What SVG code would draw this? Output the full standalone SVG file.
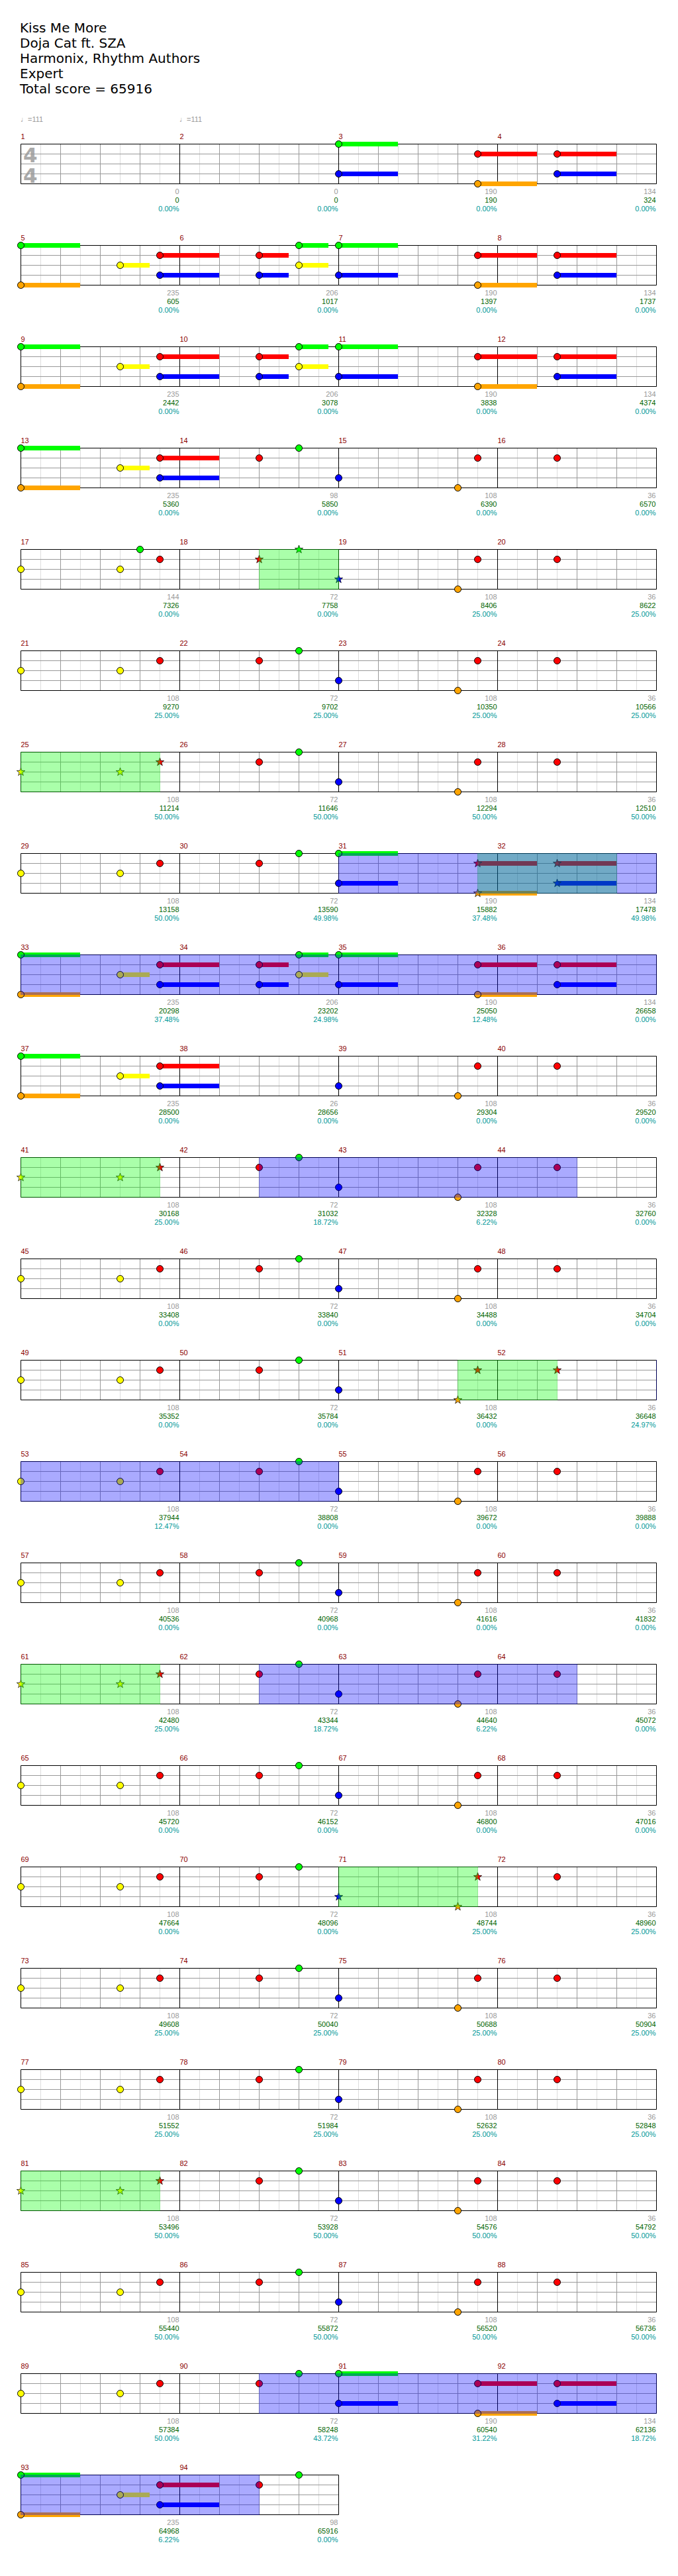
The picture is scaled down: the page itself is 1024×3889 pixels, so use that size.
<svg xmlns="http://www.w3.org/2000/svg" width="1024" height="3889" viewBox="0 0 1024 3889">
<style>
.bg{fill:#fff}
.lt{stroke:#ddd;stroke-width:1;fill:none}
.gr{stroke:#999;stroke-width:1;fill:none}
.bk{stroke:#000;stroke-width:1;fill:none}
.n{stroke:#000;stroke-width:1}
.s{stroke:#000;stroke-width:0.7}
.G{fill:#00ff00}.R{fill:#ff0000}.Y{fill:#ffff00}.B{fill:#0000ff}.O{fill:#ffa500}
.og{fill:#00ff00;fill-opacity:0.333}
.ob{fill:#0000ff;fill-opacity:0.333}
.title{font-family:"DejaVu Sans",Verdana,sans-serif;font-size:20px;fill:#000}
.tp{font-family:"Liberation Sans","DejaVu Sans",sans-serif;font-size:11px;fill:#999}
.ts{font-family:"DejaVu Sans",sans-serif;font-weight:bold;font-size:31px;fill:#aaa}
.mn{font-family:"Liberation Sans",Arial,sans-serif;font-size:11px;fill:#8b0000}
.sc{font-family:"Liberation Sans",Arial,sans-serif;font-size:11px;text-anchor:end}
.a{fill:#999}.b{fill:#006400}.c{fill:#009999}
</style>
<defs>
<path id="st" d="M0,-6.5L1.53,-2.1L6.18,-2.01L2.47,0.8L3.82,5.26L0,2.6L-3.82,5.26L-2.47,0.8L-6.18,-2.01L-1.53,-2.1Z"/>
<g id="grid4">
<path class="lt" d="M61.5 0V60M121.5 0V60M181.5 0V60M241.5 0V60M301.5 0V60M361.5 0V60M421.5 0V60M481.5 0V60M541.5 0V60M601.5 0V60M661.5 0V60M721.5 0V60M781.5 0V60M841.5 0V60M901.5 0V60M961.5 0V60"/>
<path class="gr" d="M91.5 0V60M151.5 0V60M211.5 0V60M331.5 0V60M391.5 0V60M451.5 0V60M571.5 0V60M631.5 0V60M691.5 0V60M811.5 0V60M871.5 0V60M931.5 0V60M31.5 15H991.5M31.5 30H991.5M31.5 45H991.5"/>
<path class="bk" d="M31.5 0H991.5M31.5 60H991.5M31.5 0V60M271.5 0V60M511.5 0V60M751.5 0V60M991.5 0V60"/>
</g>
<g id="grid2">
<path class="lt" d="M61.5 0V60M121.5 0V60M181.5 0V60M241.5 0V60M301.5 0V60M361.5 0V60M421.5 0V60M481.5 0V60"/>
<path class="gr" d="M91.5 0V60M151.5 0V60M211.5 0V60M331.5 0V60M391.5 0V60M451.5 0V60M31.5 15H511.5M31.5 30H511.5M31.5 45H511.5"/>
<path class="bk" d="M31.5 0H511.5M31.5 60H511.5M31.5 0V60M271.5 0V60M511.5 0V60"/>
</g>
<g id="intro">
<rect class="G" x="31.5" y="-3.5" width="89.5" height="7"/>
<rect class="O" x="31.5" y="56.5" width="89.5" height="7"/>
<rect class="Y" x="181.5" y="26.5" width="44.5" height="7"/>
<rect class="R" x="241.5" y="11.5" width="89.5" height="7"/>
<rect class="B" x="241.5" y="41.5" width="89.5" height="7"/>
<circle class="n G" cx="31.5" cy="0" r="5"/>
<circle class="n O" cx="31.5" cy="60" r="5"/>
<circle class="n Y" cx="181.5" cy="30" r="5"/>
<circle class="n R" cx="241.5" cy="15" r="5"/>
<circle class="n B" cx="241.5" cy="45" r="5"/>
</g>
<g id="mid">
<rect class="R" x="391.5" y="11.5" width="44.5" height="7"/>
<rect class="B" x="391.5" y="41.5" width="44.5" height="7"/>
<rect class="G" x="451.5" y="-3.5" width="44.5" height="7"/>
<rect class="Y" x="451.5" y="26.5" width="44.5" height="7"/>
<circle class="n R" cx="391.5" cy="15" r="5"/>
<circle class="n B" cx="391.5" cy="45" r="5"/>
<circle class="n G" cx="451.5" cy="0" r="5"/>
<circle class="n Y" cx="451.5" cy="30" r="5"/>
</g>
<g id="outro">
<rect class="G" x="511.5" y="-3.5" width="89.5" height="7"/>
<rect class="B" x="511.5" y="41.5" width="89.5" height="7"/>
<rect class="R" x="721.5" y="11.5" width="89.5" height="7"/>
<rect class="O" x="721.5" y="56.5" width="89.5" height="7"/>
<rect class="R" x="841.5" y="11.5" width="89.5" height="7"/>
<rect class="B" x="841.5" y="41.5" width="89.5" height="7"/>
<circle class="n G" cx="511.5" cy="0" r="5"/>
<circle class="n B" cx="511.5" cy="45" r="5"/>
<circle class="n R" cx="721.5" cy="15" r="5"/>
<circle class="n O" cx="721.5" cy="60" r="5"/>
<circle class="n R" cx="841.5" cy="15" r="5"/>
<circle class="n B" cx="841.5" cy="45" r="5"/>
</g>
<g id="head">
<circle class="n Y" cx="31.5" cy="30" r="5"/>
<circle class="n Y" cx="181.5" cy="30" r="5"/>
<circle class="n R" cx="241.5" cy="15" r="5"/>
</g>
<g id="shead">
<use href="#st" class="s Y" x="31.5" y="30"/>
<use href="#st" class="s Y" x="181.5" y="30"/>
<use href="#st" class="s R" x="241.5" y="15"/>
</g>
<g id="rg">
<circle class="n R" cx="391.5" cy="15" r="5"/>
<circle class="n G" cx="451.5" cy="0" r="5"/>
</g>
<g id="tail4">
<circle class="n O" cx="691.5" cy="60" r="5"/>
<circle class="n R" cx="721.5" cy="15" r="5"/>
<circle class="n R" cx="841.5" cy="15" r="5"/>
</g>
<g id="tail">
<use href="#rg"/>
<circle class="n B" cx="511.5" cy="45" r="5"/>
<use href="#tail4"/>
</g>
</defs>
<rect class="bg" x="0" y="0" width="1024" height="3889"/>
<g id="header">
<text class="title" x="30" y="49">Kiss Me More</text>
<text class="title" x="30" y="72">Doja Cat ft. SZA</text>
<text class="title" x="30" y="95">Harmonix, Rhythm Authors</text>
<text class="title" x="30" y="118">Expert</text>
<text class="title" x="30" y="141">Total score = 65916</text>
</g>

<g id="row1" transform="translate(0,217.5)">
<text class="tp" x="31" y="-33.5">♩=111</text>
<text class="tp" x="271" y="-33.5">♩=111</text>
<text class="ts" x="35" y="27.5">4</text>
<text class="ts" x="35" y="58">4</text>
<use href="#grid4"/>
<use href="#outro"/>
<text class="mn" y="-8"><tspan x="31.5">1</tspan><tspan x="271.5">2</tspan><tspan x="511.5">3</tspan><tspan x="751.5">4</tspan></text>
<text class="sc a" y="75"><tspan x="270.5">0</tspan><tspan x="510.5">0</tspan><tspan x="750.5">190</tspan><tspan x="990.5">134</tspan></text>
<text class="sc b" y="88.5"><tspan x="270.5">0</tspan><tspan x="510.5">0</tspan><tspan x="750.5">190</tspan><tspan x="990.5">324</tspan></text>
<text class="sc c" y="101.5"><tspan x="270.5">0.00%</tspan><tspan x="510.5">0.00%</tspan><tspan x="750.5">0.00%</tspan><tspan x="990.5">0.00%</tspan></text>
</g>

<g id="row2" transform="translate(0,370.5)">
<use href="#grid4"/>
<use href="#intro"/><use href="#mid"/><use href="#outro"/>
<text class="mn" y="-8"><tspan x="31.5">5</tspan><tspan x="271.5">6</tspan><tspan x="511.5">7</tspan><tspan x="751.5">8</tspan></text>
<text class="sc a" y="75"><tspan x="270.5">235</tspan><tspan x="510.5">206</tspan><tspan x="750.5">190</tspan><tspan x="990.5">134</tspan></text>
<text class="sc b" y="88.5"><tspan x="270.5">605</tspan><tspan x="510.5">1017</tspan><tspan x="750.5">1397</tspan><tspan x="990.5">1737</tspan></text>
<text class="sc c" y="101.5"><tspan x="270.5">0.00%</tspan><tspan x="510.5">0.00%</tspan><tspan x="750.5">0.00%</tspan><tspan x="990.5">0.00%</tspan></text>
</g>

<g id="row3" transform="translate(0,523.5)">
<use href="#grid4"/>
<use href="#intro"/><use href="#mid"/><use href="#outro"/>
<text class="mn" y="-8"><tspan x="31.5">9</tspan><tspan x="271.5">10</tspan><tspan x="511.5">11</tspan><tspan x="751.5">12</tspan></text>
<text class="sc a" y="75"><tspan x="270.5">235</tspan><tspan x="510.5">206</tspan><tspan x="750.5">190</tspan><tspan x="990.5">134</tspan></text>
<text class="sc b" y="88.5"><tspan x="270.5">2442</tspan><tspan x="510.5">3078</tspan><tspan x="750.5">3838</tspan><tspan x="990.5">4374</tspan></text>
<text class="sc c" y="101.5"><tspan x="270.5">0.00%</tspan><tspan x="510.5">0.00%</tspan><tspan x="750.5">0.00%</tspan><tspan x="990.5">0.00%</tspan></text>
</g>

<g id="row4" transform="translate(0,676.5)">
<use href="#grid4"/>
<use href="#intro"/><use href="#tail"/>
<text class="mn" y="-8"><tspan x="31.5">13</tspan><tspan x="271.5">14</tspan><tspan x="511.5">15</tspan><tspan x="751.5">16</tspan></text>
<text class="sc a" y="75"><tspan x="270.5">235</tspan><tspan x="510.5">98</tspan><tspan x="750.5">108</tspan><tspan x="990.5">36</tspan></text>
<text class="sc b" y="88.5"><tspan x="270.5">5360</tspan><tspan x="510.5">5850</tspan><tspan x="750.5">6390</tspan><tspan x="990.5">6570</tspan></text>
<text class="sc c" y="101.5"><tspan x="270.5">0.00%</tspan><tspan x="510.5">0.00%</tspan><tspan x="750.5">0.00%</tspan><tspan x="990.5">0.00%</tspan></text>
</g>

<g id="row5" transform="translate(0,829.5)">
<use href="#grid4"/>
<use href="#head"/>
<circle class="n G" cx="211.5" cy="0" r="5"/>
<use href="#st" class="s R" x="391.5" y="15"/>
<use href="#st" class="s G" x="451.5" y="0"/>
<use href="#st" class="s B" x="511.5" y="45"/>
<use href="#tail4"/>
<rect class="og" x="391" y="-0.5" width="121" height="61"/>
<text class="mn" y="-8"><tspan x="31.5">17</tspan><tspan x="271.5">18</tspan><tspan x="511.5">19</tspan><tspan x="751.5">20</tspan></text>
<text class="sc a" y="75"><tspan x="270.5">144</tspan><tspan x="510.5">72</tspan><tspan x="750.5">108</tspan><tspan x="990.5">36</tspan></text>
<text class="sc b" y="88.5"><tspan x="270.5">7326</tspan><tspan x="510.5">7758</tspan><tspan x="750.5">8406</tspan><tspan x="990.5">8622</tspan></text>
<text class="sc c" y="101.5"><tspan x="270.5">0.00%</tspan><tspan x="510.5">0.00%</tspan><tspan x="750.5">25.00%</tspan><tspan x="990.5">25.00%</tspan></text>
</g>

<g id="row6" transform="translate(0,982.5)">
<use href="#grid4"/>
<use href="#head"/><use href="#tail"/>
<text class="mn" y="-8"><tspan x="31.5">21</tspan><tspan x="271.5">22</tspan><tspan x="511.5">23</tspan><tspan x="751.5">24</tspan></text>
<text class="sc a" y="75"><tspan x="270.5">108</tspan><tspan x="510.5">72</tspan><tspan x="750.5">108</tspan><tspan x="990.5">36</tspan></text>
<text class="sc b" y="88.5"><tspan x="270.5">9270</tspan><tspan x="510.5">9702</tspan><tspan x="750.5">10350</tspan><tspan x="990.5">10566</tspan></text>
<text class="sc c" y="101.5"><tspan x="270.5">25.00%</tspan><tspan x="510.5">25.00%</tspan><tspan x="750.5">25.00%</tspan><tspan x="990.5">25.00%</tspan></text>
</g>

<g id="row7" transform="translate(0,1135.5)">
<use href="#grid4"/>
<use href="#shead"/><use href="#tail"/>
<rect class="og" x="31" y="-0.5" width="211" height="61"/>
<text class="mn" y="-8"><tspan x="31.5">25</tspan><tspan x="271.5">26</tspan><tspan x="511.5">27</tspan><tspan x="751.5">28</tspan></text>
<text class="sc a" y="75"><tspan x="270.5">108</tspan><tspan x="510.5">72</tspan><tspan x="750.5">108</tspan><tspan x="990.5">36</tspan></text>
<text class="sc b" y="88.5"><tspan x="270.5">11214</tspan><tspan x="510.5">11646</tspan><tspan x="750.5">12294</tspan><tspan x="990.5">12510</tspan></text>
<text class="sc c" y="101.5"><tspan x="270.5">50.00%</tspan><tspan x="510.5">50.00%</tspan><tspan x="750.5">50.00%</tspan><tspan x="990.5">50.00%</tspan></text>
</g>

<g id="row8" transform="translate(0,1288.5)">
<use href="#grid4"/>
<use href="#head"/><use href="#rg"/>
<rect class="G" x="511.5" y="-3.5" width="89.5" height="7"/>
<rect class="B" x="511.5" y="41.5" width="89.5" height="7"/>
<rect class="R" x="721.5" y="11.5" width="89.5" height="7"/>
<rect class="O" x="721.5" y="56.5" width="89.5" height="7"/>
<rect class="R" x="841.5" y="11.5" width="89.5" height="7"/>
<rect class="B" x="841.5" y="41.5" width="89.5" height="7"/>
<circle class="n G" cx="511.5" cy="0" r="5"/>
<circle class="n B" cx="511.5" cy="45" r="5"/>
<use href="#st" class="s R" x="721.5" y="15"/>
<use href="#st" class="s O" x="721.5" y="60"/>
<use href="#st" class="s R" x="841.5" y="15"/>
<use href="#st" class="s B" x="841.5" y="45"/>
<rect class="og" x="721" y="-0.5" width="211" height="61"/>
<rect class="ob" x="511" y="-0.5" width="481" height="61"/>
<text class="mn" y="-8"><tspan x="31.5">29</tspan><tspan x="271.5">30</tspan><tspan x="511.5">31</tspan><tspan x="751.5">32</tspan></text>
<text class="sc a" y="75"><tspan x="270.5">108</tspan><tspan x="510.5">72</tspan><tspan x="750.5">190</tspan><tspan x="990.5">134</tspan></text>
<text class="sc b" y="88.5"><tspan x="270.5">13158</tspan><tspan x="510.5">13590</tspan><tspan x="750.5">15882</tspan><tspan x="990.5">17478</tspan></text>
<text class="sc c" y="101.5"><tspan x="270.5">50.00%</tspan><tspan x="510.5">49.98%</tspan><tspan x="750.5">37.48%</tspan><tspan x="990.5">49.98%</tspan></text>
</g>

<g id="row9" transform="translate(0,1441.5)">
<use href="#grid4"/>
<use href="#intro"/><use href="#mid"/><use href="#outro"/>
<rect class="ob" x="31" y="-0.5" width="961" height="61"/>
<text class="mn" y="-8"><tspan x="31.5">33</tspan><tspan x="271.5">34</tspan><tspan x="511.5">35</tspan><tspan x="751.5">36</tspan></text>
<text class="sc a" y="75"><tspan x="270.5">235</tspan><tspan x="510.5">206</tspan><tspan x="750.5">190</tspan><tspan x="990.5">134</tspan></text>
<text class="sc b" y="88.5"><tspan x="270.5">20298</tspan><tspan x="510.5">23202</tspan><tspan x="750.5">25050</tspan><tspan x="990.5">26658</tspan></text>
<text class="sc c" y="101.5"><tspan x="270.5">37.48%</tspan><tspan x="510.5">24.98%</tspan><tspan x="750.5">12.48%</tspan><tspan x="990.5">0.00%</tspan></text>
</g>

<g id="row10" transform="translate(0,1594.5)">
<use href="#grid4"/>
<use href="#intro"/>
<circle class="n B" cx="511.5" cy="45" r="5"/>
<use href="#tail4"/>
<text class="mn" y="-8"><tspan x="31.5">37</tspan><tspan x="271.5">38</tspan><tspan x="511.5">39</tspan><tspan x="751.5">40</tspan></text>
<text class="sc a" y="75"><tspan x="270.5">235</tspan><tspan x="510.5">26</tspan><tspan x="750.5">108</tspan><tspan x="990.5">36</tspan></text>
<text class="sc b" y="88.5"><tspan x="270.5">28500</tspan><tspan x="510.5">28656</tspan><tspan x="750.5">29304</tspan><tspan x="990.5">29520</tspan></text>
<text class="sc c" y="101.5"><tspan x="270.5">0.00%</tspan><tspan x="510.5">0.00%</tspan><tspan x="750.5">0.00%</tspan><tspan x="990.5">0.00%</tspan></text>
</g>

<g id="row11" transform="translate(0,1747.5)">
<use href="#grid4"/>
<use href="#shead"/><use href="#tail"/>
<rect class="og" x="31" y="-0.5" width="211" height="61"/>
<rect class="ob" x="391" y="-0.5" width="481" height="61"/>
<text class="mn" y="-8"><tspan x="31.5">41</tspan><tspan x="271.5">42</tspan><tspan x="511.5">43</tspan><tspan x="751.5">44</tspan></text>
<text class="sc a" y="75"><tspan x="270.5">108</tspan><tspan x="510.5">72</tspan><tspan x="750.5">108</tspan><tspan x="990.5">36</tspan></text>
<text class="sc b" y="88.5"><tspan x="270.5">30168</tspan><tspan x="510.5">31032</tspan><tspan x="750.5">32328</tspan><tspan x="990.5">32760</tspan></text>
<text class="sc c" y="101.5"><tspan x="270.5">25.00%</tspan><tspan x="510.5">18.72%</tspan><tspan x="750.5">6.22%</tspan><tspan x="990.5">0.00%</tspan></text>
</g>

<g id="row12" transform="translate(0,1900.5)">
<use href="#grid4"/>
<use href="#head"/><use href="#tail"/>
<text class="mn" y="-8"><tspan x="31.5">45</tspan><tspan x="271.5">46</tspan><tspan x="511.5">47</tspan><tspan x="751.5">48</tspan></text>
<text class="sc a" y="75"><tspan x="270.5">108</tspan><tspan x="510.5">72</tspan><tspan x="750.5">108</tspan><tspan x="990.5">36</tspan></text>
<text class="sc b" y="88.5"><tspan x="270.5">33408</tspan><tspan x="510.5">33840</tspan><tspan x="750.5">34488</tspan><tspan x="990.5">34704</tspan></text>
<text class="sc c" y="101.5"><tspan x="270.5">0.00%</tspan><tspan x="510.5">0.00%</tspan><tspan x="750.5">0.00%</tspan><tspan x="990.5">0.00%</tspan></text>
</g>

<g id="row13" transform="translate(0,2053.5)">
<use href="#grid4"/>
<use href="#head"/><use href="#rg"/>
<circle class="n B" cx="511.5" cy="45" r="5"/>
<use href="#st" class="s O" x="691.5" y="60"/>
<use href="#st" class="s R" x="721.5" y="15"/>
<use href="#st" class="s R" x="841.5" y="15"/>
<rect class="og" x="691" y="-0.5" width="151" height="61"/>
<rect class="ob" x="991" y="-0.5" width="1" height="61"/>
<text class="mn" y="-8"><tspan x="31.5">49</tspan><tspan x="271.5">50</tspan><tspan x="511.5">51</tspan><tspan x="751.5">52</tspan></text>
<text class="sc a" y="75"><tspan x="270.5">108</tspan><tspan x="510.5">72</tspan><tspan x="750.5">108</tspan><tspan x="990.5">36</tspan></text>
<text class="sc b" y="88.5"><tspan x="270.5">35352</tspan><tspan x="510.5">35784</tspan><tspan x="750.5">36432</tspan><tspan x="990.5">36648</tspan></text>
<text class="sc c" y="101.5"><tspan x="270.5">0.00%</tspan><tspan x="510.5">0.00%</tspan><tspan x="750.5">0.00%</tspan><tspan x="990.5">24.97%</tspan></text>
</g>

<g id="row14" transform="translate(0,2206.5)">
<use href="#grid4"/>
<use href="#head"/><use href="#tail"/>
<rect class="ob" x="31" y="-0.5" width="481" height="61"/>
<text class="mn" y="-8"><tspan x="31.5">53</tspan><tspan x="271.5">54</tspan><tspan x="511.5">55</tspan><tspan x="751.5">56</tspan></text>
<text class="sc a" y="75"><tspan x="270.5">108</tspan><tspan x="510.5">72</tspan><tspan x="750.5">108</tspan><tspan x="990.5">36</tspan></text>
<text class="sc b" y="88.5"><tspan x="270.5">37944</tspan><tspan x="510.5">38808</tspan><tspan x="750.5">39672</tspan><tspan x="990.5">39888</tspan></text>
<text class="sc c" y="101.5"><tspan x="270.5">12.47%</tspan><tspan x="510.5">0.00%</tspan><tspan x="750.5">0.00%</tspan><tspan x="990.5">0.00%</tspan></text>
</g>

<g id="row15" transform="translate(0,2359.5)">
<use href="#grid4"/>
<use href="#head"/><use href="#tail"/>
<text class="mn" y="-8"><tspan x="31.5">57</tspan><tspan x="271.5">58</tspan><tspan x="511.5">59</tspan><tspan x="751.5">60</tspan></text>
<text class="sc a" y="75"><tspan x="270.5">108</tspan><tspan x="510.5">72</tspan><tspan x="750.5">108</tspan><tspan x="990.5">36</tspan></text>
<text class="sc b" y="88.5"><tspan x="270.5">40536</tspan><tspan x="510.5">40968</tspan><tspan x="750.5">41616</tspan><tspan x="990.5">41832</tspan></text>
<text class="sc c" y="101.5"><tspan x="270.5">0.00%</tspan><tspan x="510.5">0.00%</tspan><tspan x="750.5">0.00%</tspan><tspan x="990.5">0.00%</tspan></text>
</g>

<g id="row16" transform="translate(0,2512.5)">
<use href="#grid4"/>
<use href="#shead"/><use href="#tail"/>
<rect class="og" x="31" y="-0.5" width="211" height="61"/>
<rect class="ob" x="391" y="-0.5" width="481" height="61"/>
<text class="mn" y="-8"><tspan x="31.5">61</tspan><tspan x="271.5">62</tspan><tspan x="511.5">63</tspan><tspan x="751.5">64</tspan></text>
<text class="sc a" y="75"><tspan x="270.5">108</tspan><tspan x="510.5">72</tspan><tspan x="750.5">108</tspan><tspan x="990.5">36</tspan></text>
<text class="sc b" y="88.5"><tspan x="270.5">42480</tspan><tspan x="510.5">43344</tspan><tspan x="750.5">44640</tspan><tspan x="990.5">45072</tspan></text>
<text class="sc c" y="101.5"><tspan x="270.5">25.00%</tspan><tspan x="510.5">18.72%</tspan><tspan x="750.5">6.22%</tspan><tspan x="990.5">0.00%</tspan></text>
</g>

<g id="row17" transform="translate(0,2665.5)">
<use href="#grid4"/>
<use href="#head"/><use href="#tail"/>
<text class="mn" y="-8"><tspan x="31.5">65</tspan><tspan x="271.5">66</tspan><tspan x="511.5">67</tspan><tspan x="751.5">68</tspan></text>
<text class="sc a" y="75"><tspan x="270.5">108</tspan><tspan x="510.5">72</tspan><tspan x="750.5">108</tspan><tspan x="990.5">36</tspan></text>
<text class="sc b" y="88.5"><tspan x="270.5">45720</tspan><tspan x="510.5">46152</tspan><tspan x="750.5">46800</tspan><tspan x="990.5">47016</tspan></text>
<text class="sc c" y="101.5"><tspan x="270.5">0.00%</tspan><tspan x="510.5">0.00%</tspan><tspan x="750.5">0.00%</tspan><tspan x="990.5">0.00%</tspan></text>
</g>

<g id="row18" transform="translate(0,2818.5)">
<use href="#grid4"/>
<use href="#head"/><use href="#rg"/>
<use href="#st" class="s B" x="511.5" y="45"/>
<use href="#st" class="s O" x="691.5" y="60"/>
<use href="#st" class="s R" x="721.5" y="15"/>
<circle class="n R" cx="841.5" cy="15" r="5"/>
<rect class="og" x="511" y="-0.5" width="211" height="61"/>
<text class="mn" y="-8"><tspan x="31.5">69</tspan><tspan x="271.5">70</tspan><tspan x="511.5">71</tspan><tspan x="751.5">72</tspan></text>
<text class="sc a" y="75"><tspan x="270.5">108</tspan><tspan x="510.5">72</tspan><tspan x="750.5">108</tspan><tspan x="990.5">36</tspan></text>
<text class="sc b" y="88.5"><tspan x="270.5">47664</tspan><tspan x="510.5">48096</tspan><tspan x="750.5">48744</tspan><tspan x="990.5">48960</tspan></text>
<text class="sc c" y="101.5"><tspan x="270.5">0.00%</tspan><tspan x="510.5">0.00%</tspan><tspan x="750.5">25.00%</tspan><tspan x="990.5">25.00%</tspan></text>
</g>

<g id="row19" transform="translate(0,2971.5)">
<use href="#grid4"/>
<use href="#head"/><use href="#tail"/>
<text class="mn" y="-8"><tspan x="31.5">73</tspan><tspan x="271.5">74</tspan><tspan x="511.5">75</tspan><tspan x="751.5">76</tspan></text>
<text class="sc a" y="75"><tspan x="270.5">108</tspan><tspan x="510.5">72</tspan><tspan x="750.5">108</tspan><tspan x="990.5">36</tspan></text>
<text class="sc b" y="88.5"><tspan x="270.5">49608</tspan><tspan x="510.5">50040</tspan><tspan x="750.5">50688</tspan><tspan x="990.5">50904</tspan></text>
<text class="sc c" y="101.5"><tspan x="270.5">25.00%</tspan><tspan x="510.5">25.00%</tspan><tspan x="750.5">25.00%</tspan><tspan x="990.5">25.00%</tspan></text>
</g>

<g id="row20" transform="translate(0,3124.5)">
<use href="#grid4"/>
<use href="#head"/><use href="#tail"/>
<text class="mn" y="-8"><tspan x="31.5">77</tspan><tspan x="271.5">78</tspan><tspan x="511.5">79</tspan><tspan x="751.5">80</tspan></text>
<text class="sc a" y="75"><tspan x="270.5">108</tspan><tspan x="510.5">72</tspan><tspan x="750.5">108</tspan><tspan x="990.5">36</tspan></text>
<text class="sc b" y="88.5"><tspan x="270.5">51552</tspan><tspan x="510.5">51984</tspan><tspan x="750.5">52632</tspan><tspan x="990.5">52848</tspan></text>
<text class="sc c" y="101.5"><tspan x="270.5">25.00%</tspan><tspan x="510.5">25.00%</tspan><tspan x="750.5">25.00%</tspan><tspan x="990.5">25.00%</tspan></text>
</g>

<g id="row21" transform="translate(0,3277.5)">
<use href="#grid4"/>
<use href="#shead"/><use href="#tail"/>
<rect class="og" x="31" y="-0.5" width="211" height="61"/>
<text class="mn" y="-8"><tspan x="31.5">81</tspan><tspan x="271.5">82</tspan><tspan x="511.5">83</tspan><tspan x="751.5">84</tspan></text>
<text class="sc a" y="75"><tspan x="270.5">108</tspan><tspan x="510.5">72</tspan><tspan x="750.5">108</tspan><tspan x="990.5">36</tspan></text>
<text class="sc b" y="88.5"><tspan x="270.5">53496</tspan><tspan x="510.5">53928</tspan><tspan x="750.5">54576</tspan><tspan x="990.5">54792</tspan></text>
<text class="sc c" y="101.5"><tspan x="270.5">50.00%</tspan><tspan x="510.5">50.00%</tspan><tspan x="750.5">50.00%</tspan><tspan x="990.5">50.00%</tspan></text>
</g>

<g id="row22" transform="translate(0,3430.5)">
<use href="#grid4"/>
<use href="#head"/><use href="#tail"/>
<text class="mn" y="-8"><tspan x="31.5">85</tspan><tspan x="271.5">86</tspan><tspan x="511.5">87</tspan><tspan x="751.5">88</tspan></text>
<text class="sc a" y="75"><tspan x="270.5">108</tspan><tspan x="510.5">72</tspan><tspan x="750.5">108</tspan><tspan x="990.5">36</tspan></text>
<text class="sc b" y="88.5"><tspan x="270.5">55440</tspan><tspan x="510.5">55872</tspan><tspan x="750.5">56520</tspan><tspan x="990.5">56736</tspan></text>
<text class="sc c" y="101.5"><tspan x="270.5">50.00%</tspan><tspan x="510.5">50.00%</tspan><tspan x="750.5">50.00%</tspan><tspan x="990.5">50.00%</tspan></text>
</g>

<g id="row23" transform="translate(0,3583.5)">
<use href="#grid4"/>
<use href="#head"/><use href="#rg"/><use href="#outro"/>
<rect class="ob" x="391" y="-0.5" width="601" height="61"/>
<text class="mn" y="-8"><tspan x="31.5">89</tspan><tspan x="271.5">90</tspan><tspan x="511.5">91</tspan><tspan x="751.5">92</tspan></text>
<text class="sc a" y="75"><tspan x="270.5">108</tspan><tspan x="510.5">72</tspan><tspan x="750.5">190</tspan><tspan x="990.5">134</tspan></text>
<text class="sc b" y="88.5"><tspan x="270.5">57384</tspan><tspan x="510.5">58248</tspan><tspan x="750.5">60540</tspan><tspan x="990.5">62136</tspan></text>
<text class="sc c" y="101.5"><tspan x="270.5">50.00%</tspan><tspan x="510.5">43.72%</tspan><tspan x="750.5">31.22%</tspan><tspan x="990.5">18.72%</tspan></text>
</g>

<g id="row24" transform="translate(0,3736.5)">
<use href="#grid2"/>
<use href="#intro"/><use href="#rg"/>
<rect class="ob" x="31" y="-0.5" width="361" height="61"/>
<text class="mn" y="-8"><tspan x="31.5">93</tspan><tspan x="271.5">94</tspan></text>
<text class="sc a" y="75"><tspan x="270.5">235</tspan><tspan x="510.5">98</tspan></text>
<text class="sc b" y="88.5"><tspan x="270.5">64968</tspan><tspan x="510.5">65916</tspan></text>
<text class="sc c" y="101.5"><tspan x="270.5">6.22%</tspan><tspan x="510.5">0.00%</tspan></text>
</g>
</svg>
